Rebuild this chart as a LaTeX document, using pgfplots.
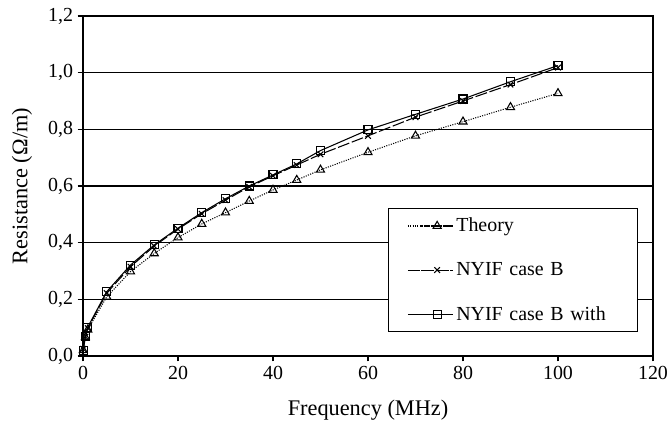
\documentclass[border=0pt]{standalone}
\usepackage{pgfplots}
\pgfplotsset{compat=1.18}
\usepackage{fontspec}
\setmainfont{Liberation Serif}
\begin{document}
\begin{tikzpicture}
\useasboundingbox (0,0) rectangle (501bp,318bp);
\begin{axis}[
  at={(62.25bp,51bp)}, anchor=south west,
  scale only axis, width=427.5bp, height=255bp,
  xmin=0, xmax=120, ymin=0, ymax=1.2,
  xtick={0,20,40,60,80,100,120},
  ytick={0,0.2,0.4,0.6,0.8,1.0,1.2},
  tick align=outside, tick pos=left,
  major tick length=4bp,
  ymajorgrids, major grid style={black, line width=1.1pt},
  axis line style={black, line width=1.1pt},
  every tick/.style={black, line width=1pt},
  /pgf/number format/assume math mode=true,
  yticklabel style={/pgf/number format/.cd, fixed, fixed zerofill, precision=1, use comma},
  ticklabel style={font=\fontsize{15}{17}\selectfont},
  xlabel={Frequency (MHz)}, ylabel={Resistance (\symbol{"03A9}/m)},
  xlabel style={at={(axis description cs:0.5,-0.159)}, anchor=center, font=\fontsize{16.8}{19}\selectfont},
  ylabel style={at={(axis description cs:-0.107,0.5)}, anchor=center, rotate=0, font=\fontsize{16.8}{19}\selectfont},
  legend image code/.code={\path (0bp,0bp) -- (34bp,0bp); \draw[mark repeat=2, mark phase=2, #1] plot coordinates {(10bp,0bp)(22bp,0bp)(34bp,0bp)};},
  legend style={at={(axis description cs:0.535,0.435)}, anchor=north west,
    draw=black, line width=1pt, fill=white,
    font=\fontsize{15}{17}\selectfont, row sep=17.5bp,
    inner xsep=14bp, inner ysep=5bp, text width=120bp},
  legend cell align=left,
]
\addplot[black, densely dotted, line width=0.8pt, mark=triangle, mark size=3.5bp, mark options={solid, line width=0.8pt}] coordinates {
(0.05,0.02)(0.5,0.066)(1,0.093)(5,0.209)(10,0.298)(15,0.362)(20,0.418)(25,0.466)(30,0.506)(35,0.547)(40,0.586)(45,0.621)(50,0.657)(60,0.719)(70,0.777)(80,0.827)(90,0.878)(100,0.927)};
\addlegendentry{Theory}
\addplot[black, dash pattern=on 9bp off 2bp, line width=0.8pt, mark=x, mark size=3bp, mark options={solid, line width=0.8pt}] coordinates {
(0.05,0.025)(0.5,0.068)(1,0.098)(5,0.222)(10,0.315)(15,0.388)(20,0.448)(25,0.502)(30,0.55)(35,0.597)(40,0.636)(45,0.674)(50,0.712)(60,0.777)(70,0.843)(80,0.9)(90,0.958)(100,1.018)};
\addlegendentry{NYIF case B}
\addplot[black, solid, line width=0.8pt, mark=square, mark size=3bp, mark options={solid, line width=0.8pt}] coordinates {
(0.05,0.02)(0.5,0.07)(1,0.102)(5,0.227)(10,0.321)(15,0.392)(20,0.451)(25,0.506)(30,0.555)(35,0.6)(40,0.639)(45,0.678)(50,0.725)(60,0.798)(70,0.853)(80,0.907)(90,0.968)(100,1.025)};
\addlegendentry{NYIF case B with}
\end{axis}
\end{tikzpicture}
\end{document}
